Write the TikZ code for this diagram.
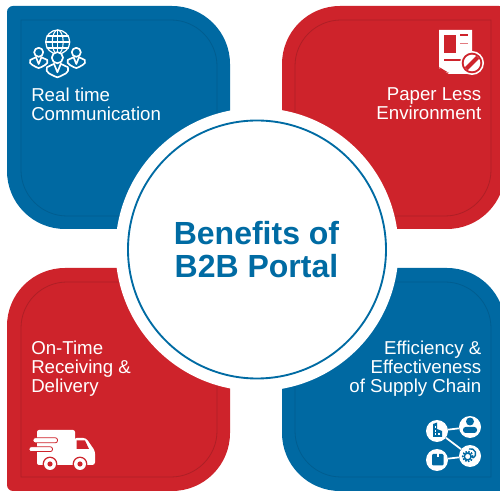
\documentclass[tikz,border=0pt]{standalone}
\usepackage{fontspec}
\setmainfont{Liberation Sans}
\definecolor{bluefill}{HTML}{0069A2}
\definecolor{blueline}{HTML}{005D90}
\definecolor{redfill}{HTML}{CE232B}
\definecolor{redline}{HTML}{AE1F26}
\definecolor{ringblue}{HTML}{006BA3}
% x1 y1 x2 y2 rTL rTR rBR rBL
\newcommand\cornerpath[8]{(#1,#2+#5) arc (180:270:#5) -- (#3-#6,#2) arc (270:360:#6) -- (#3,#4-#7) arc (0:90:#7) -- (#1+#8,#4) arc (90:180:#8) -- cycle}
\tikzset{
  px/.style={x=0.75pt,y=-0.75pt},
  innerline/.style={line width=0.6pt},
  label/.style={text=white,inner sep=0pt,font=\fontsize{14}{14.3}\selectfont},
  iconline/.style={draw=white,line width=1.25pt,line cap=round,line join=round},
  hub/.style={circle,fill=white,minimum size=16.5pt,inner sep=0pt},
  hublink/.style={draw=white,line width=1.3pt}
}
\newcommand\personicon[4]{% head x,y, head radius, body half width
  \begin{scope}[shift={(#1,#2)}]
    \draw[iconline,fill=bluefill] (0,0) circle (#3);
    \draw[iconline] (-#3*0.6,#3*1.1) -- (-#4,#3*1.7) .. controls (-#4-1,#3*2.1) and (-#4,#3*2.7) .. (-#4+2,#3*2.8) -- (-#4*0.3,#3*3.3) -- (0,#3*3.5) -- (#4*0.3,#3*3.3) -- (#4-2,#3*2.8) .. controls (#4,#3*2.7) and (#4+1,#3*2.1) .. (#4,#3*1.7) -- (#3*0.6,#3*1.1);
    \draw[iconline] (-#3*0.6,#3*1.1) -- (0,#3*2.6) -- (#3*0.6,#3*1.1);
  \end{scope}}
\begin{document}
\begin{tikzpicture}[px]
\useasboundingbox (0,0) rectangle (500,491);
\clip (0,0) rectangle (500,491);
\fill[white] (0,0) rectangle (500,491);
% panels
\fill[bluefill] \cornerpath{7}{6}{230}{229}{6}{58}{0.01}{58};
\draw[blueline,innerline] \cornerpath{21}{20}{217}{216}{0.01}{46}{0.01}{46};
\fill[redfill] \cornerpath{282}{6}{505}{229}{58}{6}{58}{0.01};
\draw[redline,innerline] \cornerpath{295}{20}{491}{216}{46}{0.01}{46}{0.01};
\fill[redfill] \cornerpath{7}{268}{230}{491}{58}{0.01}{58}{6};
\draw[redline,innerline] \cornerpath{21}{282}{217}{477}{46}{0.01}{46}{0.01};
\fill[bluefill] \cornerpath{282}{268}{505}{491}{0.01}{58}{6}{58};
\draw[blueline,innerline] \cornerpath{295}{282}{491}{477}{0.01}{46}{0.01}{46};
% centre
\fill[white] (257,249.5) circle (141.5);
\draw[ringblue,line width=1.4pt] (257,249.5) circle (129);
\node[text=ringblue,inner sep=0pt,align=center,font=\fontsize{24}{24.8}\selectfont\bfseries] (title) at (256.5,250) {Benefits of\\B2B Portal};
% labels
\node[label,align=left,anchor=north west] (rt) at (31,87.5) {Real time\\Communication};
\node[label,align=right,anchor=north east] (pl) at (481.5,87.5) {Paper Less\\Environment};
\node[label,align=left,anchor=north west] (ot) at (31,341) {On-Time\\Receiving \&\\Delivery};
\node[label,align=right,anchor=north east] (ef) at (481.5,341) {Efficiency \&\\Effectiveness\\of Supply Chain};
% globe and people icon
\begin{scope}
  \draw[iconline,line width=0.9pt] (57.7,42) circle (12);
  \draw[iconline,line width=0.8pt] (57.7,42) ellipse (5.5 and 12);
  \draw[iconline,line width=0.8pt] (57.7,30) -- (57.7,54);
  \draw[iconline,line width=0.8pt] (47,36) -- (68.4,36) (45.7,42) -- (69.7,42) (47,48) -- (68.4,48);
  \personicon{38.7}{52.3}{4.5}{8.5}
  \personicon{76.3}{52.3}{4.5}{8.5}
  \personicon{57.4}{57.7}{5.6}{10.5}
\end{scope}
% paper-less icon
\fill[white] (439,30) -- (472,30) -- (472,74) -- (449,74) -- (439,68) -- cycle;
\fill[redfill] (444,35) rectangle (456,53);
\fill[redfill] (460,34.5) rectangle (468,35.6);
\fill[redfill!60] (460,43) rectangle (468,44.5);
\fill[redfill] (444,59.5) rectangle (465,60.6);
\fill[redfill] (439,67) -- (449,73) -- (442,71) -- cycle;
\fill[white] (472,63) circle (12);
\fill[redfill] (472,63) circle (10.3);
\fill[white] (472,63) circle (8.3);
\fill[redfill,rotate around={45:(472,63)}] (464,61) rectangle (480,65);
% truck icon
\fill[white,rounded corners=1.5pt] (37,430) -- (75,430) -- (75,465) -- (37,465) -- cycle;
\fill[white,rounded corners=2pt] (74,438) -- (86,438) -- (95,451) -- (95,465) -- (74,465) -- cycle;
\fill[redfill] (76.5,440.5) -- (85,440.5) -- (89,449) -- (76.5,449) -- cycle;
\draw[redfill,fill=white,line width=0.6pt,rounded corners=1.6pt] (33,437.8) rectangle (57.5,442.8);
\draw[redfill,fill=white,line width=0.6pt,rounded corners=1.6pt] (29,446.8) rectangle (52.5,451.6);
\foreach \wx in {50,80} {
  \fill[redfill] (\wx,464) circle (7.4);
  \fill[white] (\wx,464) circle (6);
  \fill[redfill] (\wx,464) circle (2.6);
}
% supply chain icon
\node[hub] (build) at (437,431) {};
\node[hub] (user) at (470,427) {};
\node[hub] (box) at (437,460) {};
\node[hub] (gear) at (470,456) {};
\draw[hublink] (build) -- (user);
\draw[hublink] (build) -- (gear);
\draw[hublink] (box) -- (gear);
\fill[bluefill] (433,424) -- (437,422.5) -- (437,429) -- (442,431) -- (442,437) -- (433,437) -- cycle;
\foreach \sx/\sy in {434.5/426,434.5/430,438.3/433,434.5/433.5} {\fill[white] (\sx,\sy) rectangle +(1.4,1.6);}
\fill[bluefill] (470,421.5) circle (4);
\fill[bluefill,rounded corners=2pt] (463,433) -- (463,427) -- (477,427) -- (477,433) -- cycle;
\fill[bluefill,rounded corners=0.8pt] (432,454) rectangle (443.5,465.5);
\fill[white] (436.5,453.5) rectangle (439,457.5);
\draw[bluefill,line width=1.1pt] (467.7,456.5) circle (3.4);
\draw[bluefill,line width=1.3pt,dash pattern=on 1.2pt off 1pt] (467.7,456.5) circle (5);
\draw[bluefill,line width=1pt] (469,449) arc (-110:60:5);
\end{tikzpicture}
\end{document}
